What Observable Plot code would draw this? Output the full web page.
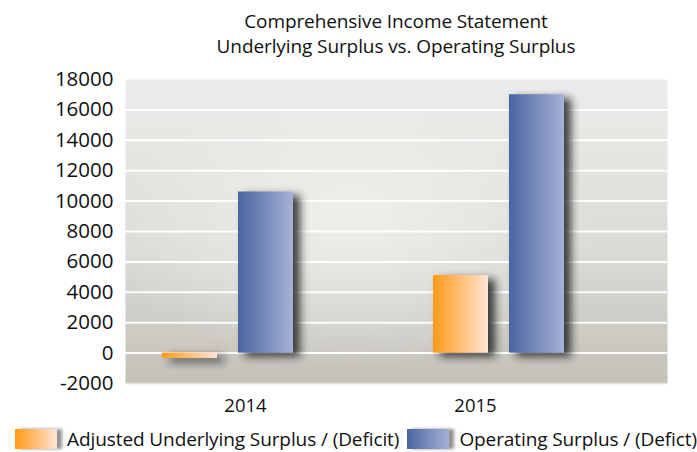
<!DOCTYPE html>
<html>
<head>
<meta charset="utf-8">
<script src="https://cdn.jsdelivr.net/npm/d3@7"></script>
<script src="https://cdn.jsdelivr.net/npm/@observablehq/plot@0.6"></script>
<style>
  html, body { margin: 0; padding: 0; background: #fff; }
  body { width: 697px; height: 452px; overflow: hidden; font-family: "Open Sans", sans-serif; color: #111; }
  #title { box-sizing: border-box; width: 697px; padding: 9px 30px 0 125px; height: 62px; text-align: center; font-size: 19px; line-height: 25px; letter-spacing: -0.1px; }
  #legend { display: flex; align-items: center; height: 28px; margin-top: 1px; font-size: 19px; white-space: nowrap; letter-spacing: -0.1px; }
  .sw { width: 43px; height: 20px; margin-right: 10px; box-shadow: 5px 0 3px rgba(60,60,60,0.55); }
</style>
</head>
<body>
<div id="title">Comprehensive Income Statement<br>Underlying Surplus vs. Operating Surplus</div>
<div id="chart"></div>
<div id="legend"></div>
<script>
const years = ["2014", "2015"];
const seriesNames = ["Adjusted Underlying Surplus / (Deficit)", "Operating Surplus / (Defict)"];
const adjustedUnderlying = [-350, 5100];
const operatingSurplus = [10600, 17000];
const yTicks = [-2000, 0, 2000, 4000, 6000, 8000, 10000, 12000, 14000, 16000, 18000];
const gridTicks = [0, 2000, 4000, 6000, 8000, 10000, 12000, 14000, 16000];

const adjData = years.map((y, i) => ({year: y, value: adjustedUnderlying[i]}));
const opData = years.map((y, i) => ({year: y, value: operatingSurplus[i]}));

const plot = Plot.plot({
  width: 697,
  height: 362,
  marginLeft: 125,
  marginRight: 30,
  marginTop: 17,
  marginBottom: 41,
  style: {fontFamily: "Open Sans, sans-serif", color: "#111", background: "transparent", overflow: "visible"},
  x: {domain: years, paddingInner: 0.2436, paddingOuter: 0.1218, align: 0},
  y: {domain: [-2000, 18000]},
  marks: [
    Plot.frame({fill: "url(#bgLinear)", stroke: "none"}),
    Plot.frame({fill: "url(#bgRadial)", stroke: "none"}),
    Plot.ruleY(gridTicks, {stroke: "#ffffff", strokeWidth: 2, strokeOpacity: 0.95}),
    Plot.ruleY([-2000], {stroke: "#e2e1da", strokeWidth: 1.5}),
    Plot.barY(adjData, {x: "year", y: "value", fill: "url(#gOrange)", insetLeft: 37, insetRight: 113}),
    Plot.barY(opData, {x: "year", y: "value", fill: "url(#gBlue)", insetLeft: 113, insetRight: 37}),
    Plot.axisY({ticks: yTicks, tickSize: 0, tickPadding: 12, fontSize: 20.5, label: null, tickFormat: d => String(d)}),
    Plot.axisX({ticks: ["2014"], tickSize: 0, tickPadding: 15, fontSize: 18.5, label: null, dx: 17.5}),
    Plot.axisX({ticks: ["2015"], tickSize: 0, tickPadding: 15, fontSize: 18.5, label: null, dx: -23.5})
  ]
});

const ns = "http://www.w3.org/2000/svg";
const defs = document.createElementNS(ns, "defs");
defs.innerHTML = `
  <linearGradient id="bgLinear" x1="0" y1="0" x2="0" y2="1">
    <stop offset="0" stop-color="#ecedeb"/>
    <stop offset="0.55" stop-color="#dcdbd6"/>
    <stop offset="1" stop-color="#c3c1b9"/>
  </linearGradient>
  <radialGradient id="bgRadial" cx="0.42" cy="0.5" r="0.45" fx="0.42" fy="0.45">
    <stop offset="0" stop-color="#f4f4f2" stop-opacity="0.75"/>
    <stop offset="1" stop-color="#f4f4f2" stop-opacity="0"/>
  </radialGradient>
  <linearGradient id="gOrange" x1="0" y1="0" x2="1" y2="0">
    <stop offset="0" stop-color="#ff9a18"/>
    <stop offset="1" stop-color="#ffe4d4"/>
  </linearGradient>
  <linearGradient id="gBlue" x1="0" y1="0" x2="1" y2="0">
    <stop offset="0" stop-color="#4a65a0"/>
    <stop offset="1" stop-color="#a6b1d5"/>
  </linearGradient>
  <filter id="shadow" x="-30%" y="-30%" width="170%" height="170%">
    <feDropShadow dx="7" dy="4" stdDeviation="4" flood-color="#222" flood-opacity="0.85"/>
  </filter>`;
plot.insertBefore(defs, plot.firstChild);
plot.querySelectorAll('g[aria-label="bar"]').forEach(g => g.setAttribute("filter", "url(#shadow)"));
document.getElementById("chart").appendChild(plot);

const legend = document.getElementById("legend");
const legendItems = [
  {name: seriesNames[0], grad: "linear-gradient(to right, #ff9a18, #ffe4d4)", ml: 15},
  {name: seriesNames[1], grad: "linear-gradient(to right, #4a65a0, #a6b1d5)", ml: 8}
];
legendItems.forEach(it => {
  const sw = document.createElement("div");
  sw.className = "sw";
  sw.style.background = it.grad;
  sw.style.marginLeft = it.ml + "px";
  const t = document.createElement("span");
  t.textContent = it.name;
  legend.appendChild(sw);
  legend.appendChild(t);
});
</script>
</body>
</html>
